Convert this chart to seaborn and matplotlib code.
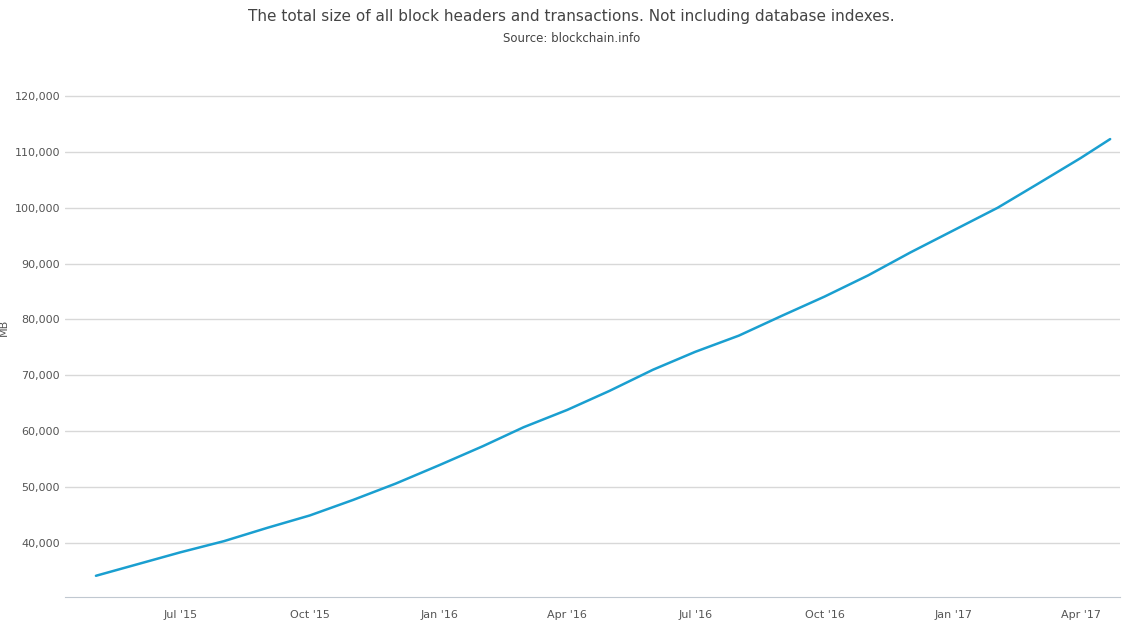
import matplotlib
matplotlib.use("Agg")
import matplotlib.pyplot as plt
import seaborn as sns
import pandas as pd
import matplotlib.dates as mdates

dates = ["2015-05-02","2015-07-01","2015-08-01","2015-09-01","2015-10-01","2015-11-01","2015-12-01",
         "2016-01-01","2016-02-01","2016-03-01","2016-04-01","2016-05-01","2016-06-01","2016-07-01",
         "2016-08-01","2016-09-01","2016-10-01","2016-11-01","2016-12-01","2017-01-01","2017-02-01",
         "2017-03-01","2017-04-01","2017-04-22"]
size_mb = [34100,38300,40300,42700,44900,47700,50600,53900,57300,60700,63800,67200,71000,74200,
           77100,80700,84100,87900,92000,96000,100000,104200,108900,112300]
title = "The total size of all block headers and transactions. Not including database indexes."
subtitle = "Source: blockchain.info"

df = pd.DataFrame({"date": pd.to_datetime(dates), "MB": size_mb})
sns.set_style("white")
fig = plt.figure(figsize=(11.43, 6.35), dpi=100)
ax = fig.add_axes([65/1143, 38/635, 1055/1143, 540/635])
sns.lineplot(data=df, x="date", y="MB", ax=ax, color="#1a9fd0", linewidth=1.8)
ax.set_ylim(30300, 127000)
ax.set_xlim(pd.Timestamp("2015-04-10"), pd.Timestamp("2017-04-29"))
ax.set_yticks(range(40000, 120001, 10000))
ax.yaxis.set_major_formatter(matplotlib.ticker.FuncFormatter(lambda v, p: f"{int(v):,}"))
ax.xaxis.set_major_locator(mdates.MonthLocator(bymonth=[1, 4, 7, 10]))
ax.xaxis.set_major_formatter(mdates.DateFormatter("%b '%y"))
ax.grid(axis="y", color="#d8d8d8", linewidth=1)
for s in ["top", "right", "left"]:
    ax.spines[s].set_visible(False)
ax.spines["bottom"].set_color("#c0c8d0")
ax.tick_params(axis="x", length=6, color="#c0c8d0", labelsize=8, labelcolor="#555555")
ax.tick_params(axis="y", length=0, labelsize=8, labelcolor="#555555")
ax.set_xlabel("")
ax.set_ylabel("MB", fontsize=8, color="#555555", labelpad=4)
fig.text(0.5, 1 - 16/635, title, ha="center", va="center", fontsize=11, color="#444444")
fig.text(0.5, 1 - 39/635, subtitle, ha="center", va="center", fontsize=8.5, color="#444444")
fig.savefig("out.png", dpi=100)
